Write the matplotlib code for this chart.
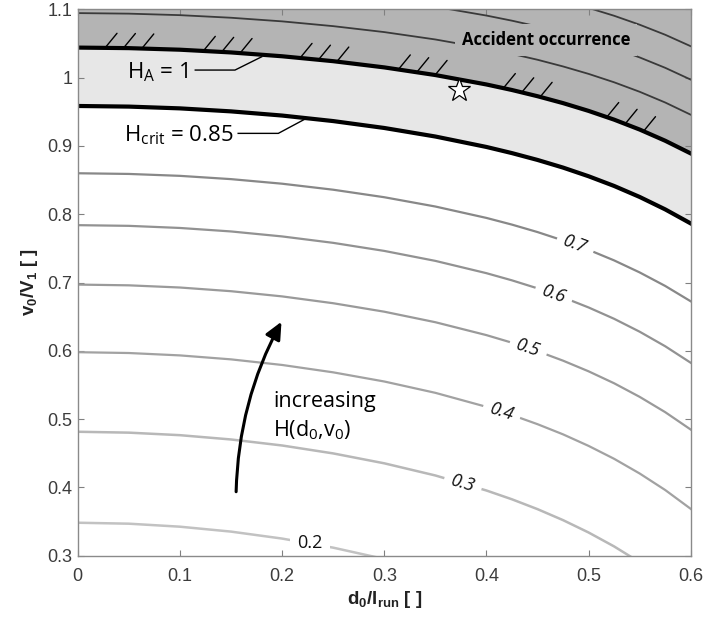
import numpy as np
import matplotlib
matplotlib.use('Agg')
import matplotlib.pyplot as plt
from matplotlib.patches import FancyArrowPatch
from matplotlib.ticker import FuncFormatter

plt.rcParams['font.family'] = ['Liberation Sans', 'DejaVu Sans']

d_full = [0.0, 0.05, 0.1, 0.15, 0.2, 0.25, 0.3, 0.35, 0.4, 0.425, 0.45, 0.475,
          0.5, 0.525, 0.55, 0.575, 0.6]
d_02 = d_full[:7]
d_03 = d_full[:15]
d_12 = d_full[6:]
d_13 = d_full[10:]

# v0/V1 along each iso-H line
h_02 = [0.3483, 0.3469, 0.3425, 0.3353, 0.3251, 0.3118, 0.2952]
h_03 = [0.4815, 0.4802, 0.4765, 0.4702, 0.4614, 0.4498, 0.4353, 0.4175, 0.3955,
        0.3826, 0.3682, 0.3521, 0.3340, 0.3136, 0.2905]
h_04 = [0.598, 0.5968, 0.5933, 0.5875, 0.5793, 0.5685, 0.5551, 0.5385, 0.5180,
        0.5060, 0.4926, 0.4777, 0.4608, 0.4419, 0.4204, 0.3962, 0.3686]
h_05 = [0.697, 0.6959, 0.6927, 0.6873, 0.6797, 0.6697, 0.6573, 0.6419, 0.6230,
        0.6119, 0.5995, 0.5856, 0.5700, 0.5525, 0.5326, 0.5102, 0.4847]
h_06 = [0.784, 0.783, 0.7799, 0.7748, 0.7675, 0.7581, 0.7463, 0.7317, 0.7137,
        0.7032, 0.6915, 0.6783, 0.6635, 0.6469, 0.6280, 0.6067, 0.5825]
h_07 = [0.860, 0.859, 0.8562, 0.8514, 0.8447, 0.8359, 0.8249, 0.8113, 0.7946,
        0.7848, 0.7739, 0.7616, 0.7479, 0.7324, 0.7148, 0.6950, 0.6725]
h_085 = [0.9585, 0.9576, 0.955, 0.9506, 0.9445, 0.9364, 0.9263, 0.9138, 0.8985,
         0.8895, 0.8795, 0.8683, 0.8556, 0.8414, 0.8253, 0.8071, 0.7865]
h_10 = [1.044, 1.0432, 1.0409, 1.0369, 1.0313, 1.0241, 1.015, 1.0038, 0.9900,
        0.9819, 0.9728, 0.9627, 0.9513, 0.9385, 0.9240, 0.9076, 0.889]
h_11 = [1.0945, 1.0937, 1.0915, 1.0877, 1.0824, 1.0754, 1.0667, 1.0559, 1.0426,
        1.0348, 1.0262, 1.0164, 1.0055, 0.9932, 0.9793, 0.9636, 0.9457]
h_12 = [1.1142, 1.1038, 1.0909, 1.0834, 1.075, 1.0656, 1.055, 1.0431, 1.0296,
        1.0144, 0.9971]
h_13 = [1.1214, 1.1123, 1.1021, 1.0906, 1.0775, 1.0628, 1.046]

labels = ['0.2', '0.3', '0.4', '0.5', '0.6', '0.7']
label_d = [0.227, 0.377, 0.415, 0.441, 0.466, 0.487]

hatch_d = [0.0267, 0.1229, 0.2176, 0.3138, 0.4166, 0.5178]

x_ticks = [0, 0.1, 0.2, 0.3, 0.4, 0.5, 0.6]
y_ticks = [0.3, 0.4, 0.5, 0.6, 0.7, 0.8, 0.9, 1.0, 1.1]

star_pt = (0.3735, 0.9818)

fig = plt.figure(figsize=(7.07, 6.23), dpi=100)
ax = fig.add_axes([0.110, 0.108, 0.867, 0.877])
ax.set_xlim(0, 0.6)
ax.set_ylim(0.3, 1.1)

dark = '#b4b4b4'
light = '#e7e7e7'
ax.fill_between(d_full, h_10, 1.1, color=dark, lw=0, zorder=0)
ax.fill_between(d_full, h_085, h_10, color=light, lw=0, zorder=0)

gray_lines = [(d_02, h_02, '#c2c2c2', 1.8), (d_03, h_03, '#b8b8b8', 1.8),
              (d_full, h_04, '#a2a2a2', 1.6), (d_full, h_05, '#9a9a9a', 1.6),
              (d_full, h_06, '#929292', 1.6), (d_full, h_07, '#888888', 1.6)]
for d, h, c, lw in gray_lines:
    ax.plot(d, h, color=c, lw=lw, zorder=2)

for d, h in [(d_full, h_11), (d_12, h_12), (d_13, h_13)]:
    ax.plot(d, h, color='#3a3a3a', lw=1.3, zorder=2)

ax.plot(d_full, h_085, color='k', lw=3.0, zorder=3)
ax.plot(d_full, h_10, color='k', lw=3.0, zorder=3)

# hatch marks on the H_A = 1 border
for d0 in hatch_d:
    for k in range(3):
        xh = d0 + 0.018 * k
        vh = np.interp(xh, d_full, h_10)
        ax.annotate('', xy=(xh, vh), xytext=(8.6, 10.5), textcoords='offset points',
                    arrowprops=dict(arrowstyle='-', lw=1.0, color='k', shrinkA=0, shrinkB=0),
                    zorder=4)

# inline contour labels
all_d = [d_02, d_03, d_full, d_full, d_full, d_full]
all_h = [h_02, h_03, h_04, h_05, h_06, h_07]
for lab, xl, d, h in zip(labels, label_d, all_d, all_h):
    yl = np.interp(xl, d, h)
    p1 = ax.transData.transform((xl - 0.01, np.interp(xl - 0.01, d, h)))
    p2 = ax.transData.transform((xl + 0.01, np.interp(xl + 0.01, d, h)))
    ang = np.degrees(np.arctan2(p2[1] - p1[1], p2[0] - p1[0]))
    style = 'italic'
    if lab == '0.2':
        # this one sits upright in the original
        ang, style = 0, 'normal'
    ax.text(xl, yl, lab, rotation=ang, rotation_mode='anchor', ha='center', va='center',
            fontsize=13, style=style, family='Open Sans', color='#111111', zorder=5,
            bbox=dict(boxstyle='square,pad=0.4', fc='white', ec='none'))

ann_font = 'Open Sans'
ax.text(0.1083, 0.999, r'H$\mathregular{_A}$ = 1', ha='right', va='baseline',
        fontsize=16, family=ann_font, zorder=6)
ax.plot([0.115, 0.1539, 0.1801], [1.0111, 1.0111, 1.0306], color='k', lw=1.0, zorder=6)
ax.text(0.1523, 0.9062, r'H$\mathregular{_{crit}}$ = 0.85', ha='right', va='baseline',
        fontsize=16, family=ann_font, zorder=6)
ax.plot([0.157, 0.1963, 0.2225], [0.9184, 0.9184, 0.9394], color='k', lw=1.0, zorder=6)

ax.text(0.4584, 1.055, 'Accident occurrence', ha='center', va='center', fontsize=12,
        weight='bold', family=ann_font, zorder=6,
        bbox=dict(boxstyle='square,pad=0.4', fc=dark, ec='none'))

ax.plot(*star_pt, marker='*', ms=17, mfc='white', mec='k', mew=0.9, zorder=7)

arrow = FancyArrowPatch((0.155, 0.3937), (0.1994, 0.6426), connectionstyle='arc3,rad=-0.12',
                        arrowstyle='-|>,head_length=0.65,head_width=0.3', mutation_scale=16,
                        lw=2.2, color='k', shrinkA=0, shrinkB=0, zorder=6)
ax.add_patch(arrow)
ax.text(0.1915, 0.5173, 'increasing', ha='left', va='baseline', fontsize=15.5,
        family=ann_font, zorder=6)
ax.text(0.1915, 0.4742, r'H(d$\mathregular{_0}$,v$\mathregular{_0}$)', ha='left',
        va='baseline', fontsize=15.5, family=ann_font, zorder=6)

ax.set_xticks(x_ticks)
ax.set_yticks(y_ticks)
fmt = FuncFormatter(lambda v, _: f'{v:g}')
ax.xaxis.set_major_formatter(fmt)
ax.yaxis.set_major_formatter(fmt)
ax.tick_params(direction='in', top=True, right=True, length=4, width=0.8,
               color='#808080', labelsize=13, labelcolor='#3c3c3c')
ax.tick_params(axis='x', pad=9)
ax.tick_params(axis='y', pad=4)
for sp in ax.spines.values():
    sp.set_color('#8a8a8a')
    sp.set_linewidth(1.0)
    sp.set_zorder(8)

ax.set_xlabel(r'd$\mathregular{_0}$/l$\mathregular{_{run}}$ [ ]', fontsize=13.5,
              weight='bold', color='#222222', labelpad=3)
ax.set_ylabel(r'v$\mathregular{_0}$/V$\mathregular{_1}$ [ ]', fontsize=13.5,
              weight='bold', color='#222222', labelpad=5)

fig.savefig('out.png', dpi=100)
